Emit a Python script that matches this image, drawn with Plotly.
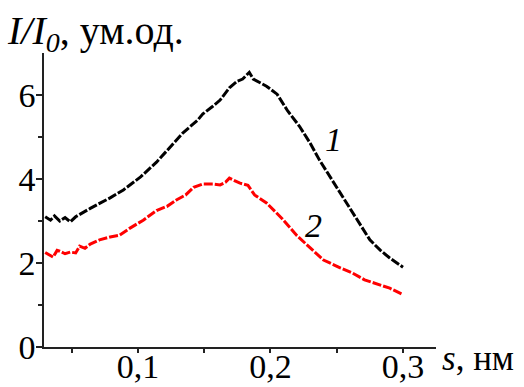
import plotly.graph_objects as go

# Scattering vector s (decimal comma on ticks)
s1 = [0.030, 0.034, 0.037, 0.041, 0.045, 0.049, 0.053, 0.056, 0.064, 0.071,
      0.079, 0.089, 0.102, 0.114, 0.124, 0.134, 0.145, 0.149, 0.156, 0.162,
      0.169, 0.175, 0.179, 0.184, 0.187, 0.190, 0.197, 0.205, 0.213, 0.222,
      0.230, 0.237, 0.245, 0.253, 0.260, 0.268, 0.275, 0.283, 0.290, 0.300]
# Curve 1: relative intensity I/I0
i1 = [3.10, 3.02, 3.12, 3.00, 3.08, 2.98, 3.10, 3.15, 3.30, 3.42,
      3.55, 3.74, 4.05, 4.40, 4.74, 5.10, 5.40, 5.55, 5.72, 5.88,
      6.17, 6.33, 6.38, 6.54, 6.38, 6.33, 6.21, 6.02, 5.62, 5.25,
      4.85, 4.45, 4.05, 3.65, 3.28, 2.88, 2.55, 2.30, 2.12, 1.90]

s2 = [0.030, 0.034, 0.036, 0.039, 0.041, 0.045, 0.049, 0.053, 0.056, 0.060,
      0.064, 0.071, 0.079, 0.086, 0.094, 0.104, 0.114, 0.122, 0.129, 0.136,
      0.142, 0.149, 0.157, 0.162, 0.166, 0.169, 0.173, 0.177, 0.183, 0.188,
      0.197, 0.209, 0.220, 0.230, 0.240, 0.253, 0.262, 0.271, 0.283, 0.290,
      0.300]
# Curve 2
i2 = [2.25, 2.18, 2.14, 2.30, 2.28, 2.22, 2.26, 2.24, 2.40, 2.35,
      2.45, 2.55, 2.62, 2.66, 2.83, 3.02, 3.25, 3.35, 3.50, 3.62,
      3.80, 3.88, 3.88, 3.86, 3.92, 4.02, 3.96, 3.90, 3.85, 3.62,
      3.43, 3.05, 2.65, 2.35, 2.07, 1.88, 1.76, 1.60, 1.48, 1.40,
      1.25]

x_ticks = [0.1, 0.2, 0.3]
x_tick_text = ["0,1", "0,2", "0,3"]
y_ticks = [0, 2, 4, 6]
y_tick_text = ["0", "2", "4", "6"]

FONT = "Liberation Serif"
AXIS_COLOR = "#222"

fig = go.Figure()
fig.add_trace(go.Scatter(
    x=s1, y=i1, mode="lines",
    line=dict(color="black", width=3, dash="9px,2px"),
    showlegend=False,
))
fig.add_trace(go.Scatter(
    x=s2, y=i2, mode="lines",
    line=dict(color="#ff0000", width=3, dash="9px,2px"),
    showlegend=False,
))

fig.update_xaxes(
    range=[0.0291, 0.3249], automargin=False,
    tickvals=x_ticks, ticktext=x_tick_text,
    showline=True, linecolor=AXIS_COLOR, linewidth=1.5,
    ticks="outside", ticklen=4, tickwidth=1.5, tickcolor=AXIS_COLOR,
    minor=dict(tickvals=[0.05, 0.15, 0.25], ticks="outside", ticklen=4,
               tickwidth=1.5, tickcolor=AXIS_COLOR),
    showgrid=False, zeroline=False,
    ticklabelstandoff=-16,
    tickfont=dict(family=FONT, size=34, color="black"),
)
fig.update_yaxes(
    range=[0, 7], automargin=False,
    tickvals=y_ticks, ticktext=y_tick_text,
    showline=True, linecolor=AXIS_COLOR, linewidth=1.5,
    ticks="outside", ticklen=6, tickwidth=1.5, tickcolor=AXIS_COLOR,
    minor=dict(tickvals=[1, 3, 5], ticks="outside", ticklen=4,
               tickwidth=1.5, tickcolor=AXIS_COLOR),
    showgrid=False, zeroline=False,
    ticklabelstandoff=-6,
    tickfont=dict(family=FONT, size=34, color="black"),
)

fig.add_annotation(
    x=-0.1, y=0.975, xref="paper", yref="paper",
    xanchor="left", yanchor="bottom", showarrow=False,
    text="<i>I/I</i><sub><i>0</i></sub>, ум.од.",
    font=dict(family=FONT, size=40, color="black"),
)
fig.add_annotation(
    x=1.01, y=0.035, xref="paper", yref="paper",
    xanchor="left", yanchor="top", showarrow=False,
    text="<i>s</i>, нм",
    font=dict(family=FONT, size=35, color="black"),
)
fig.add_annotation(
    x=0.2472, y=4.93, showarrow=False, text="<i>1</i>",
    font=dict(family=FONT, size=34, color="black"),
)
fig.add_annotation(
    x=0.2328, y=2.90, showarrow=False, text="<i>2</i>",
    font=dict(family=FONT, size=34, color="black"),
)

fig.update_layout(
    width=524, height=387,
    margin=dict(l=44, r=88, t=53, b=40),
    paper_bgcolor="white", plot_bgcolor="white",
)

fig.write_html("out.html")
